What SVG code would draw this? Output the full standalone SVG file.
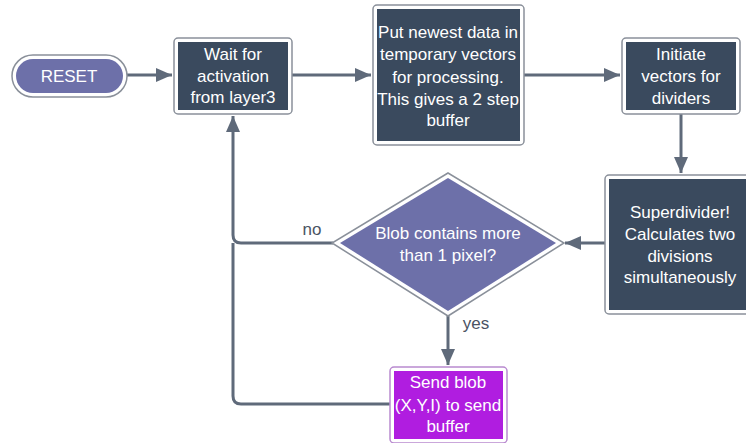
<svg xmlns="http://www.w3.org/2000/svg" width="746" height="443" viewBox="0 0 746 443">
<style>
.t{font-family:"Liberation Sans",Arial,sans-serif;font-size:17px;fill:#ffffff;text-anchor:middle}
.l{font-family:"Liberation Sans",Arial,sans-serif;font-size:17px;fill:#4a5363;text-anchor:middle}
.c{fill:none;stroke:#5f6a7a;stroke-width:3}
.ob{fill:#ffffff;stroke:#8a909a;stroke-width:1.5}
.dk{fill:#3a4a5e}
.pu{fill:#6d70a9}
</style>
<defs>
<marker id="ah" markerUnits="userSpaceOnUse" markerWidth="18" markerHeight="16" refX="16" refY="8" orient="auto">
<path d="M0,1 L16,8 L0,15 Z" fill="#5f6a7a"/>
</marker>
</defs>
<g id="connectors">
<path class="c" d="M127 75 H172" marker-end="url(#ah)"/>
<path class="c" d="M292 75 H371" marker-end="url(#ah)"/>
<path class="c" d="M524 75 H620" marker-end="url(#ah)"/>
<path class="c" d="M681 114 V173" marker-end="url(#ah)"/>
<path class="c" d="M605 243 H565" marker-end="url(#ah)"/>
<path class="c" d="M333 243 H241 Q233 243 233 235 V116" marker-end="url(#ah)"/>
<path class="c" d="M390 404 H241 Q233 404 233 396 V243"/>
<path class="c" d="M448 315 V365" marker-end="url(#ah)"/>
<text class="l" x="312" y="235">no</text>
<text class="l" x="476" y="329">yes</text>
</g>
<g id="reset">
<rect class="ob" x="12" y="55" width="115" height="42" rx="21"/>
<rect class="pu" x="16" y="59" width="107" height="34" rx="17"/>
<text class="t" x="69" y="82">RESET</text>
</g>
<g id="wait">
<rect class="ob" x="174" y="38" width="118" height="76" rx="4"/>
<rect class="dk" x="178" y="42" width="110" height="68"/>
<text class="t" x="233" y="60">Wait for</text>
<text class="t" x="233" y="82">activation</text>
<text class="t" x="233" y="103">from layer3</text>
</g>
<g id="put">
<rect class="ob" x="373" y="5" width="151" height="140" rx="4"/>
<rect class="dk" x="377" y="9" width="143" height="132"/>
<text class="t" x="448" y="38">Put newest data in</text>
<text class="t" x="448" y="60">temporary vectors</text>
<text class="t" x="448" y="83">for processing.</text>
<text class="t" x="448" y="105">This gives a 2 step</text>
<text class="t" x="448" y="126">buffer</text>
</g>
<g id="initiate">
<rect class="ob" x="622" y="38" width="118" height="76" rx="4"/>
<rect class="dk" x="626" y="42" width="110" height="68"/>
<text class="t" x="681" y="60">Initiate</text>
<text class="t" x="681" y="82">vectors for</text>
<text class="t" x="681" y="104">dividers</text>
</g>
<g id="superdivider">
<rect class="ob" x="605" y="175" width="150" height="139" rx="4"/>
<rect class="dk" x="609" y="179" width="150" height="131"/>
<text class="t" x="680" y="218">Superdivider!</text>
<text class="t" x="680" y="240">Calculates two</text>
<text class="t" x="680" y="262">divisions</text>
<text class="t" x="680" y="283">simultaneously</text>
</g>
<g id="decision">
<polygon class="ob" points="448,173 564,243 448,316 332,243"/>
<polygon class="pu" points="448,178 556,243 448,311 340,243"/>
<text class="t" x="448" y="239">Blob contains more</text>
<text class="t" x="448" y="261">than 1 pixel?</text>
</g>
<g id="send">
<rect x="390" y="367" width="117" height="76" rx="4" fill="#ffffff" stroke="#b98ad0" stroke-width="1.5"/>
<rect x="394" y="371" width="109" height="68" fill="#b01de0"/>
<text class="t" x="448" y="388">Send blob</text>
<text class="t" x="448" y="411">(X,Y,I) to send</text>
<text class="t" x="448" y="432">buffer</text>
</g>
</svg>
